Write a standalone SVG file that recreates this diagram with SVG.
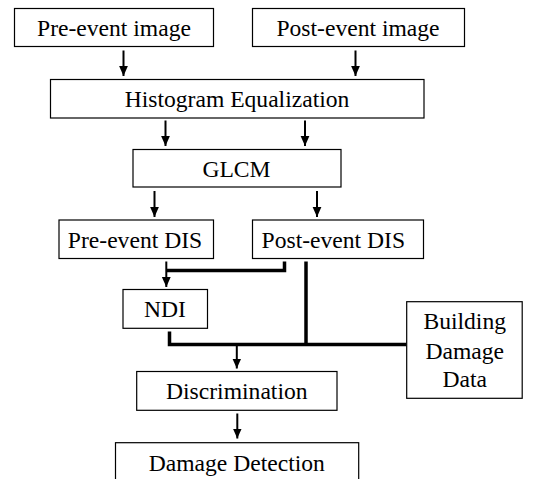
<svg xmlns="http://www.w3.org/2000/svg" width="534" height="479" viewBox="0 0 534 479">
<style>
.box{fill:#fff;stroke:#000;stroke-width:1.2}
.t{font-size:23.6px;fill:#000;text-anchor:middle}
.ar{stroke:#000;stroke-width:2;fill:none;marker-end:url(#ah)}
.th{stroke:#000;stroke-width:3.5;fill:none}
</style>
<defs>
<marker id="ah" markerUnits="userSpaceOnUse" markerWidth="12" markerHeight="10" refX="10" refY="5" orient="auto">
<path d="M0,0.6 L10,5 L0,9.4 Z" fill="#000"/>
</marker>
</defs>
<rect width="534" height="479" fill="#fff"/>
<g id="connectors">
<line class="ar" x1="123.5" y1="50.5" x2="123.5" y2="76"/>
<line class="ar" x1="355.5" y1="50.5" x2="355.5" y2="76"/>
<line class="ar" x1="165.5" y1="120.5" x2="165.5" y2="146"/>
<line class="ar" x1="305" y1="120.5" x2="305" y2="146"/>
<line class="ar" x1="154.5" y1="191" x2="154.5" y2="217"/>
<line class="ar" x1="317" y1="191" x2="317" y2="217"/>
<polyline class="th" points="284.5,261.5 284.5,270.5 166,270.5"/>
<line class="ar" x1="166.3" y1="261.5" x2="166.3" y2="287"/>
<line class="th" x1="306" y1="261.5" x2="306" y2="344.5"/>
<polyline class="th" points="169.5,331.5 169.5,344.5 406.5,344.5"/>
<line class="ar" x1="236.8" y1="346" x2="236.8" y2="368.5"/>
<line class="ar" x1="237.3" y1="413.5" x2="237.3" y2="438.5"/>
</g>
<g font-family="'Liberation Serif', 'Times New Roman', 'DejaVu Serif', serif">
<g id="pre-image"><rect class="box" x="14.5" y="8.5" width="199" height="38"/><text class="t" x="114" y="36">Pre-event image</text></g>
<g id="post-image"><rect class="box" x="252.5" y="8.5" width="212" height="38"/><text class="t" x="358" y="36">Post-event image</text></g>
<g id="histogram"><rect class="box" x="50.5" y="79.5" width="373.5" height="38.5"/><text class="t" x="237" y="107.3">Histogram Equalization</text></g>
<g id="glcm"><rect class="box" x="133" y="149.5" width="208" height="37.5"/><text class="t" x="236.5" y="176.7">GLCM</text></g>
<g id="pre-dis"><rect class="box" x="59" y="220" width="154.5" height="38.5"/><text class="t" x="135" y="247.7">Pre-event DIS</text></g>
<g id="post-dis"><rect class="box" x="252.5" y="220" width="171" height="38.5"/><text class="t" x="333.3" y="247.7">Post-event DIS</text></g>
<g id="ndi"><rect class="box" x="123" y="289.5" width="84.5" height="38.8"/><text class="t" x="165" y="317.3">NDI</text></g>
<g id="building"><rect class="box" x="406.7" y="301.7" width="115.5" height="96.6"/><text class="t" x="464.7" y="329.3">Building</text><text class="t" x="464.7" y="358.7">Damage</text><text class="t" x="464.7" y="387">Data</text></g>
<g id="discrimination"><rect class="box" x="136.7" y="371.5" width="200.3" height="38.8"/><text class="t" x="236.8" y="399.3">Discrimination</text></g>
<g id="damage-detection"><rect class="box" x="115.5" y="442.7" width="243.2" height="40"/><text class="t" x="236.8" y="470.7">Damage Detection</text></g>
</g>
</svg>
